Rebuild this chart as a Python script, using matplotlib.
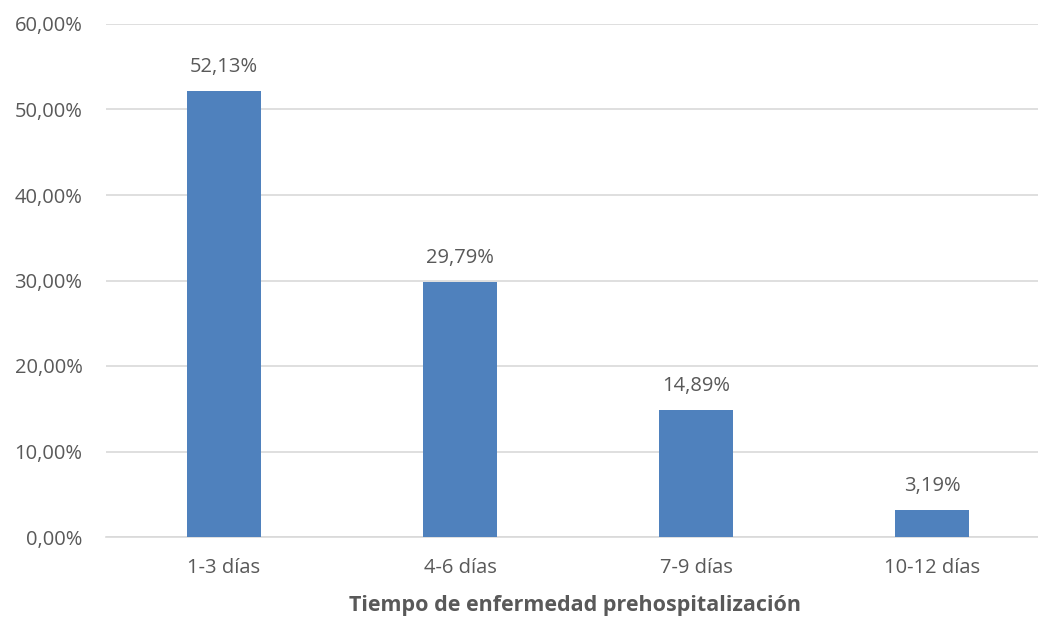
import matplotlib

matplotlib.use("Agg")
import matplotlib.pyplot as plt
from matplotlib.ticker import FuncFormatter

categories = ["1-3 días", "4-6 días", "7-9 días", "10-12 días"]
percentages = [52.13, 29.79, 14.89, 3.19]
y_ticks = [0, 10, 20, 30, 40, 50, 60]

BAR_COLOR = "#4F81BD"
TEXT_COLOR = "#595959"
GRID_COLOR = "#D9D9D9"

plt.rcParams["font.family"] = ["Open Sans", "DejaVu Sans"]


def pct_es(value):
    """Format a percentage with a comma as decimal separator."""
    return f"{value:.2f}".replace(".", ",") + "%"


fig = plt.figure(figsize=(10.38, 6.2), dpi=100)
# plot area runs slightly past the right edge of the canvas
ax = fig.add_axes([106 / 1038, 83 / 620, 944 / 1038, 513 / 620])

x = range(len(categories))
bars = ax.bar(x, percentages, width=0.313, color=BAR_COLOR, zorder=3)

for rect, val in zip(bars, percentages):
    ax.annotate(pct_es(val), (rect.get_x() + rect.get_width() / 2, val),
                xytext=(0, 10), textcoords="offset points",
                ha="center", va="bottom", fontsize=14.5, color=TEXT_COLOR)

ax.set_xlim(-0.5, len(categories) - 0.5)
ax.set_ylim(0, 60)
ax.set_yticks(y_ticks)
ax.yaxis.set_major_formatter(FuncFormatter(lambda v, _: pct_es(v)))
ax.set_xticks(list(x), categories)
ax.grid(axis="y", color=GRID_COLOR, linewidth=1.2, zorder=0)

for side in ("top", "right", "left"):
    ax.spines[side].set_visible(False)
ax.spines["bottom"].set_color(GRID_COLOR)
ax.spines["bottom"].set_linewidth(1.2)

ax.tick_params(axis="both", length=0, labelsize=14.5, labelcolor=TEXT_COLOR)
ax.tick_params(axis="x", pad=15)
ax.tick_params(axis="y", pad=17)

fig.text(575 / 1038, 1 - 605 / 620, "Tiempo de enfermedad prehospitalización",
         ha="center", va="center", fontsize=15.5, fontweight="bold",
         color=TEXT_COLOR)

fig.savefig("out.png", dpi=100)
